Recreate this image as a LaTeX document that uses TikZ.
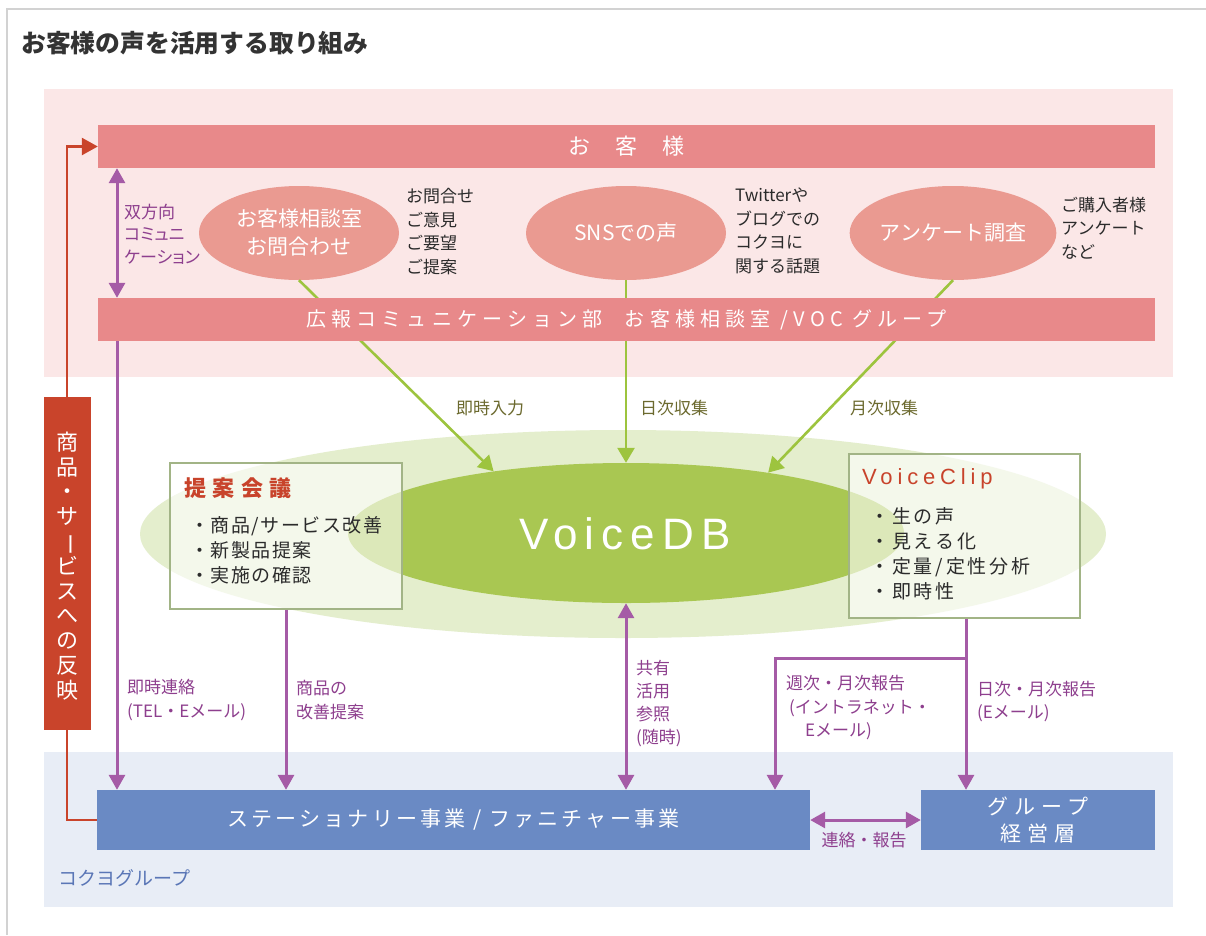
\documentclass[tikz,border=0pt]{standalone}
\usepackage{fontspec}
\usepackage{graphicx}
\setmainfont{Noto Sans CJK JP}
\newfontfamily\latinsans{Liberation Sans}
\usetikzlibrary{arrows.meta,shapes.geometric}
\definecolor{framec}{HTML}{D2D2D2}
\definecolor{titlec}{HTML}{333333}
\definecolor{pinkbg}{HTML}{FBE7E7}
\definecolor{barpink}{HTML}{E8898A}
\definecolor{ovalpink}{HTML}{EA9A91}
\definecolor{orangec}{HTML}{C9442B}
\definecolor{purp}{HTML}{A55BA6}
\definecolor{ptext}{HTML}{8E3F8E}
\definecolor{grn}{HTML}{9DC43E}
\definecolor{olivec}{HTML}{6C6A2F}
\definecolor{lgreen}{HTML}{E4EECD}
\definecolor{dgreen}{HTML}{A9C752}
\definecolor{boxline}{HTML}{A2B486}
\definecolor{redt}{HTML}{C8432B}
\definecolor{bluebg}{HTML}{E8EDF6}
\definecolor{barblue}{HTML}{6A8AC4}
\definecolor{bluet}{HTML}{5A76B6}
\definecolor{txtdark}{HTML}{2B2B2B}
\tikzset{
  bar/.style={rectangle, fill=barpink, inner sep=0, text=white},
  oval/.style={ellipse, fill=ovalpink, inner sep=0, minimum width=200pt, minimum height=94pt, text=white, align=center, font=\fontsize{21}{28}\selectfont},
  note/.style={inner sep=0, anchor=west, align=left, font=\fontsize{17}{23.6}\selectfont, text=txtdark},
  plbl/.style={inner sep=0, anchor=west, align=left, font=\fontsize{17}{23.5}\selectfont, text=ptext},
  glbl/.style={inner sep=0, font=\fontsize{17}{20}\selectfont, text=olivec},
  parrow/.style={draw=purp, line width=3pt, -{Triangle[length=15pt,width=16pt]}},
  pboth/.style={draw=purp, line width=3pt, {Triangle[length=15pt,width=16pt]}-{Triangle[length=15pt,width=16pt]}},
  garrow/.style={draw=grn, line width=2.6pt, -{Triangle[length=15pt,width=17pt]}},
  infobox/.style={rectangle, draw=boxline, line width=1.2pt, fill=white, fill opacity=0.6, inner sep=0},
  bluebar/.style={rectangle, fill=barblue, inner sep=0, text=white, align=center},
  oline/.style={draw=orangec, line width=2.6pt, -{Triangle[length=16pt,width=17pt]}}
}
\begin{document}
\begin{tikzpicture}[x=1pt,y=-1pt]
\useasboundingbox (0,0) rectangle (1206,935);
\fill[white] (0,0) rectangle (1206,935);
\draw[framec, line width=1.5pt] (7,935) -- (7,9) -- (1206,9);
\node[anchor=west, inner sep=0, font=\bfseries\fontsize{24.8}{28}\selectfont, text=titlec] (title) at (21,43) {お客様の声を活用する取り組み};
% regions
\fill[pinkbg] (44,89) rectangle (1173,377);
\fill[bluebg] (44,752) rectangle (1173,907);
\node[ellipse, fill=lgreen, minimum width=966pt, minimum height=208pt, inner sep=0] (halo) at (623,534) {};
\node[ellipse, fill=dgreen, minimum width=556pt, minimum height=140pt, inner sep=0] (vdb) at (626,533) {};
% customer ovals
\node[oval] (e1) at (299,233) {お客様相談室\\お問合わせ};
\node[oval] (e2) at (626,233) {SNSでの声};
\node[oval] (e3) at (953,233) {アンケート調査};
% green arrows
\draw[garrow] (e1.south) -- (vdb.155.7);
\draw[garrow] (e2.south) -- (vdb.north);
\draw[garrow] (e3.south) -- (vdb.23.7);
% bars
\node[bar, minimum width=1057pt, minimum height=43pt, font=\fontsize{20}{24}\selectfont\addfontfeature{LetterSpace=26}] (dept) at (626.5,319.5) {広報コミュニケーション部\hspace{22pt}お客様相談室 /VOC グループ};
\node[bar, minimum width=1057pt, minimum height=43pt, font=\fontsize{22}{26}\selectfont] (cust) at (626.5,146.5) {お\hspace{25pt}客\hspace{25pt}様};
% info boxes
\node[infobox, minimum width=232pt, minimum height=146pt] (tb) at (286,536) {};
\node[infobox, minimum width=231pt, minimum height=164pt] (vc) at (964.5,536) {};
% bottom bars
\node[bluebar, minimum width=713pt, minimum height=60pt, font=\fontsize{21}{26}\selectfont\addfontfeature{LetterSpace=15}] (st) at (453.5,820) {ステーショナリー事業 / ファニチャー事業};
\node[bluebar, minimum width=234pt, minimum height=60pt, font=\fontsize{21}{27}\selectfont\addfontfeature{LetterSpace=30}] (grp) at (1038,820) {グループ\\経営層};
% helper coordinates
\coordinate (xL) at (117,0);
\coordinate (xO) at (67,0);
\coordinate (xW) at (775,0);
\coordinate (br) at (966,658);
% orange feedback loop
\draw[oline] (st.west) -- (xO |- st.west) -- (xO |- cust.west) -- (cust.west);
\node[rectangle, fill=orangec, minimum width=47pt, minimum height=333pt, inner sep=0] (ref) at (67.5,563.5) {};
\node[inner sep=0, align=center, text=white, font=\fontsize{22}{24.8}\selectfont] (reft) at (67.5,566) {商\\品\\・\\サ\\\rotatebox[origin=c]{-90}{ー}\\ビ\\ス\\へ\\の\\反\\映};
% purple arrows
\draw[pboth] (xL |- cust.south) -- (xL |- dept.north);
\draw[parrow] (xL |- dept.south) -- (xL |- st.north);
\draw[parrow] (tb.south) -- (tb.south |- st.north);
\draw[pboth] (vdb.south) -- (vdb.south |- st.north);
\draw[parrow] (br |- vc.south) -- (br |- grp.north);
\draw[parrow] (br) -| (xW |- st.north);
\draw[pboth] (st.east) -- (grp.west);
% texts
\node[inner sep=0, text=white, font=\latinsans\fontsize{44}{48}\selectfont\addfontfeature{LetterSpace=16}] (vdbt) at (625,534) {VoiceDB};
\node[note] (t1) at (406,231.5) {お問合せ\\ご意見\\ご要望\\ご提案};
\node[note] (t2) at (735,231) {Twitterや\\ブログでの\\コクヨに\\関する話題};
\node[note] (t3) at (1061,228) {ご購入者様\\アンケート\\など};
\node[plbl, font=\fontsize{17}{22.5}\selectfont\addfontfeature{RawFeature=+palt}] (bi) at (124,234) {双方向\\コミュニ\\ケーション};
\node[glbl] (g1) at (490,408) {即時入力};
\node[glbl] (g2) at (674,408) {日次収集};
\node[glbl] (g3) at (884,408) {月次収集};
\node[inner sep=0, anchor=west, text=redt, font=\bfseries\fontsize{22}{26}\selectfont\addfontfeature{LetterSpace=30}] (tbh) at (184,488) {提案会議};
\node[note, font=\fontsize{19}{25}\selectfont\addfontfeature{LetterSpace=8}] (tbi) at (190,550) {・商品/サービス改善\\・新製品提案\\・実施の確認};
\node[inner sep=0, anchor=west, text=redt, font=\latinsans\fontsize{22}{26}\selectfont\addfontfeature{LetterSpace=22}] (vch) at (862,479) {VoiceClip};
\node[note, font=\fontsize{19}{25}\selectfont\addfontfeature{LetterSpace=15}] (vci) at (870,553.5) {・生の声\\・見える化\\・定量/定性分析\\・即時性};
\node[plbl] (p1) at (127,700) {即時連絡\\(TEL・Eメール)};
\node[plbl] (p2) at (296,700) {商品の\\改善提案};
\node[plbl, font=\fontsize{17}{23}\selectfont] (p3) at (636,704) {共有\\活用\\参照\\(随時)};
\node[plbl] (p4) at (786,708) {週次・月次報告\\\hspace*{3pt}(イントラネット・\\\hspace*{19pt}Eメール)};
\node[plbl] (p5) at (977,701.5) {日次・月次報告\\(Eメール)};
\node[inner sep=0, text=ptext, font=\fontsize{17}{20}\selectfont] (p6) at (864,840) {連絡・報告};
\node[inner sep=0, anchor=west, text=bluet, font=\fontsize{19}{22}\selectfont] (kg) at (58,878) {コクヨグループ};
\end{tikzpicture}
\end{document}
